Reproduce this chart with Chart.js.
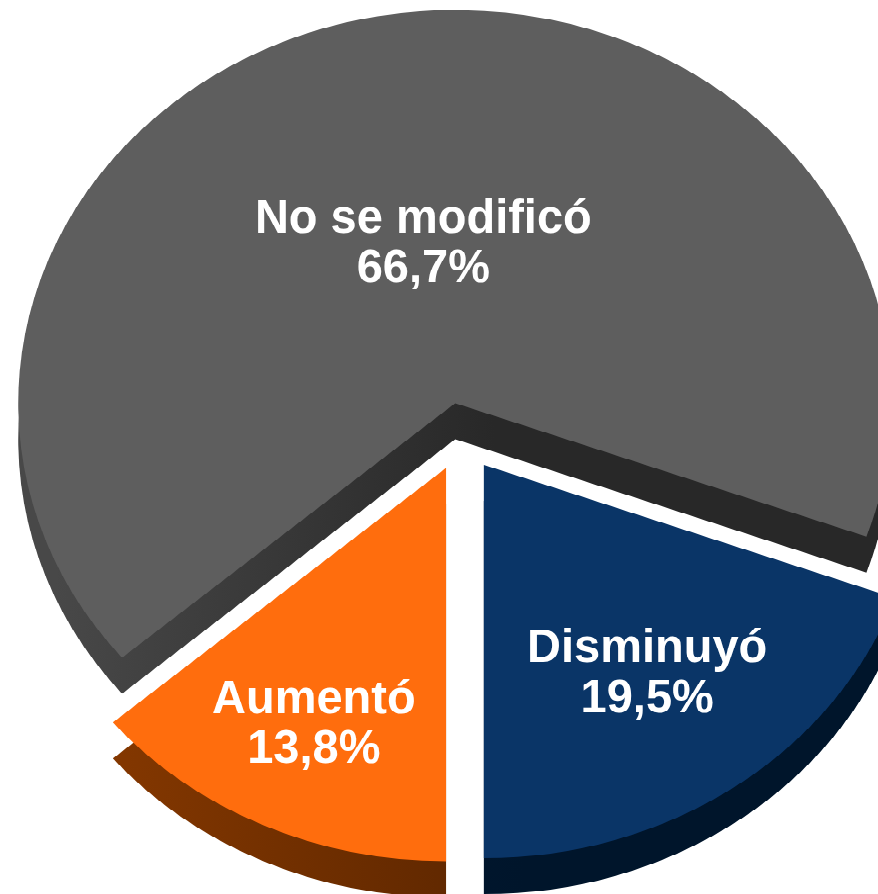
<!DOCTYPE html>
<html>
<head>
<meta charset="utf-8">
<script src="https://cdn.jsdelivr.net/npm/chart.js@4.4.0/dist/chart.umd.min.js"></script>
<style>
  body { margin: 0; background: #fff; overflow: hidden; width: 878px; height: 894px; position: relative; }
  #pie3d { position: absolute; left: -38px; top: -13px; width: 1000px; height: 1000px;
           transform: scaleY(0.9); transform-origin: 0 0; }
  #pie3d canvas { position: absolute; left: 0; }
  #side { top: 40px; }
  #front { top: 0; }
</style>
</head>
<body>
<div id="pie3d">
  <canvas id="side" width="1000" height="1000"></canvas>
  <canvas id="front" width="1000" height="1000"></canvas>
</div>
<script>
// datos (%)
var labels = ["Aumentó", "No se modificó", "Disminuyó"];
var values = [13.8, 66.7, 19.5];
var valueText = ["13,8%", "66,7%", "19,5%"];

var topColors = ["#FF6D0D", "#5E5E5E", "#0A3567"];
// lados: color claro (izquierda) y oscuro (derecha)
var sideColors = [["#8A3A00", "#5E2700"], ["#484848", "#282828"], ["#001E3A", "#00152B"]];

var squash = 0.9;

// separa las porciones sin agrandar el radio (el offset de chart.js lo agranda)
var explode = {
  id: "explode",
  beforeDatasetsDraw: function(chart, args, opts) {
    var ctx = chart.ctx;
    chart.getDatasetMeta(0).data.forEach(function(arc) {
      var mid = (arc.startAngle + arc.endAngle) / 2;
      ctx.save();
      ctx.translate(Math.cos(mid) * opts.distance, Math.sin(mid) * opts.distance);
      arc.draw(ctx);
      ctx.restore();
    });
    return false;
  }
};

// etiquetas blancas dentro de cada porción
var sliceLabels = {
  id: "sliceLabels",
  afterDraw: function(chart, args, opts) {
    var ctx = chart.ctx;
    var d = chart.options.plugins.explode.distance;
    chart.getDatasetMeta(0).data.forEach(function(arc, i) {
      var mid = (arc.startAngle + arc.endAngle) / 2;
      var r = d + arc.outerRadius * opts.factor[i];
      ctx.save();
      ctx.translate(arc.x + Math.cos(mid) * r, arc.y + Math.sin(mid) * r);
      ctx.scale(1, 1 / squash);
      ctx.fillStyle = "#fff";
      ctx.font = "bold 47px 'Liberation Sans', Arial, sans-serif";
      ctx.textAlign = "center";
      ctx.textBaseline = "middle";
      ctx.fillText(labels[i], 0, -25);
      ctx.fillText(valueText[i], 0, 25);
      ctx.restore();
    });
  }
};

function sideFill(c) {
  var pair = sideColors[c.dataIndex];
  var g = c.chart.ctx.createLinearGradient(100, 0, 900, 0);
  g.addColorStop(0, pair[0]);
  g.addColorStop(0.55, pair[1]);
  g.addColorStop(1, pair[1]);
  return g;
}

function makePie(id, colors, withLabels) {
  return new Chart(document.getElementById(id), {
    type: "pie",
    data: {
      labels: labels,
      datasets: [{
        data: values,
        backgroundColor: colors,
        borderWidth: 0
      }]
    },
    options: {
      responsive: false,
      animation: false,
      events: [],
      rotation: 180,
      radius: 437,
      plugins: {
        legend: { display: false },
        tooltip: { enabled: false },
        explode: { distance: 38 },
        sliceLabels: { factor: [0.72, 0.41, 0.65] }
      }
    },
    plugins: withLabels ? [explode, sliceLabels] : [explode]
  });
}

makePie("side", sideFill, false);
makePie("front", topColors, true);
</script>
</body>
</html>
